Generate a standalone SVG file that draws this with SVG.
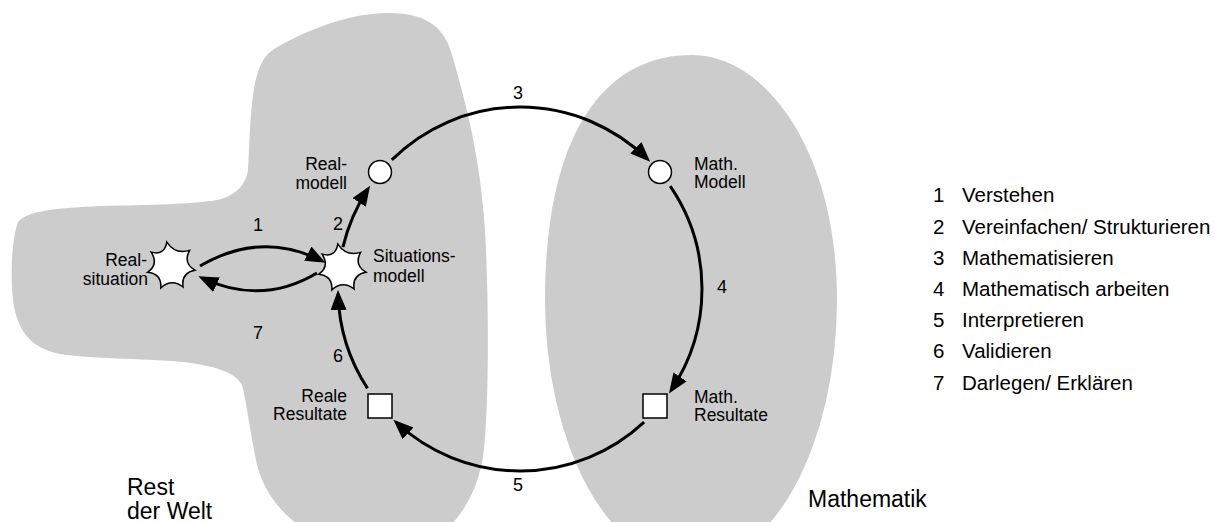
<svg xmlns="http://www.w3.org/2000/svg" xmlns:xlink="http://www.w3.org/1999/xlink" width="1215" height="522" viewBox="0 0 1215 522">
<style>
.region{fill:#cccccc}
.t{font-family:"Liberation Sans",Arial,Helvetica,sans-serif;fill:#000}
.lbl{font-size:17.5px}
.num{font-size:18px;text-anchor:middle}
.leg{font-size:20.5px}
.big{font-size:23px}
.end{text-anchor:end}
.conn{fill:none;stroke:#000;stroke-width:3}
.shape{fill:#fff;stroke:#000;stroke-width:1.5}
</style>
<defs>
<marker id="ah" markerUnits="userSpaceOnUse" markerWidth="22" markerHeight="18" refX="16" refY="8" orient="auto">
<path d="M0,0 L20,8 L0,16 Z" fill="#000"/>
</marker>
<path id="star" d="M-4.2,-23.9 Q4.2,-11.3 18.6,-15.6 Q11.7,-3.1 23.9,4.2 Q9.9,6.9 12.1,21 Q0.55,12.1 -10.2,21.9 Q-9.2,7.8 -23.4,6.3 Q-12,-1.5 -19.8,-13.9 Q-6.5,-10.2 -4.2,-23.9 Z"/>
</defs>

<g id="regions">
<path id="rest-der-welt" class="region" d="M270,52 C290,38 340,14 385,13 C430,12 445,30 452,55 C462,90 480,150 485,230 C489,300 489,400 484,450 C480,480 470,505 450,526 L300,526 C280,512 262,490 256,460 C250,430 246,400 242,385 C235,372 215,366 183,362 C140,358 90,359 60,354 C30,348 17,330 13,300 C10,270 12,240 18,222 C28,210 60,208 100,206 C150,205 195,204 217,200 C235,196 246,185 248,170 C250,140 250,95 258,72 C261,63 265,56 270,52 Z"/>
<path id="mathematik" class="region" d="M545,300 C545,140 600,55 692,55 C765,55 837,150 837,300 A146,265 0 0 1 545,300 Z"/>
</g>

<g id="connectors">
<path id="c1" class="conn" marker-end="url(#ah)" d="M200,266 Q262,230 322,261"/>
<path id="c7" class="conn" marker-end="url(#ah)" d="M317,273 Q262,306 202,278"/>
<path id="c2" class="conn" marker-end="url(#ah)" d="M342.9,247.1 A182,182 0 0 1 367.9,189.1"/>
<path id="c3" class="conn" marker-end="url(#ah)" d="M391.8,159.9 A182,182 0 0 1 647.3,159"/>
<path id="c4" class="conn" marker-end="url(#ah)" d="M670.2,186.2 A182,182 0 0 1 671.2,390.2"/>
<path id="c5" class="conn" marker-end="url(#ah)" d="M644.1,422.1 A182,182 0 0 1 396.3,422.5"/>
<path id="c6" class="conn" marker-end="url(#ah)" d="M367.5,388.4 A182,182 0 0 1 338.1,294.1"/>
<text class="t num" x="258" y="231">1</text>
<text class="t num" x="338" y="230">2</text>
<text class="t num" x="518" y="99">3</text>
<text class="t num" x="722" y="293">4</text>
<text class="t num" x="518" y="491">5</text>
<text class="t num" x="338" y="362">6</text>
<text class="t num" x="258" y="339">7</text>
</g>

<g id="realsituation">
<use xlink:href="#star" href="#star" class="shape" transform="translate(171,266)"/>
<text class="t lbl end" x="147" y="266">Real-</text>
<text class="t lbl end" x="148" y="285">situation</text>
</g>
<g id="situationsmodell">
<use xlink:href="#star" href="#star" class="shape" transform="translate(342,268)"/>
<text class="t lbl" x="373" y="262">Situations-</text>
<text class="t lbl" x="373" y="282">modell</text>
</g>
<g id="realmodell">
<circle class="shape" cx="380" cy="172" r="11.5"/>
<text class="t lbl end" x="347" y="170">Real-</text>
<text class="t lbl end" x="347" y="189">modell</text>
</g>
<g id="mathmodell">
<circle class="shape" cx="660" cy="172" r="11.5"/>
<text class="t lbl" x="694" y="170">Math.</text>
<text class="t lbl" x="694" y="188">Modell</text>
</g>
<g id="mathresultate">
<rect class="shape" x="643" y="394" width="24" height="24"/>
<text class="t lbl" x="694" y="403">Math.</text>
<text class="t lbl" x="694" y="421">Resultate</text>
</g>
<g id="realeresultate">
<rect class="shape" x="368" y="394" width="24" height="24"/>
<text class="t lbl end" x="347" y="402">Reale</text>
<text class="t lbl end" x="347" y="420">Resultate</text>
</g>

<g id="region-labels">
<text class="t big" x="127" y="495">Rest</text>
<text class="t big" x="127" y="519">der Welt</text>
<text class="t big" x="808" y="507">Mathematik</text>
</g>

<g id="legend">
<text class="t leg" x="933" y="202">1</text><text class="t leg" x="962" y="202">Verstehen</text>
<text class="t leg" x="933" y="234">2</text><text class="t leg" x="962" y="234">Vereinfachen/ Strukturieren</text>
<text class="t leg" x="933" y="265">3</text><text class="t leg" x="962" y="265">Mathematisieren</text>
<text class="t leg" x="933" y="296">4</text><text class="t leg" x="962" y="296">Mathematisch arbeiten</text>
<text class="t leg" x="933" y="327">5</text><text class="t leg" x="962" y="327">Interpretieren</text>
<text class="t leg" x="933" y="358">6</text><text class="t leg" x="962" y="358">Validieren</text>
<text class="t leg" x="933" y="390">7</text><text class="t leg" x="962" y="390">Darlegen/ Erklären</text>
</g>
</svg>
